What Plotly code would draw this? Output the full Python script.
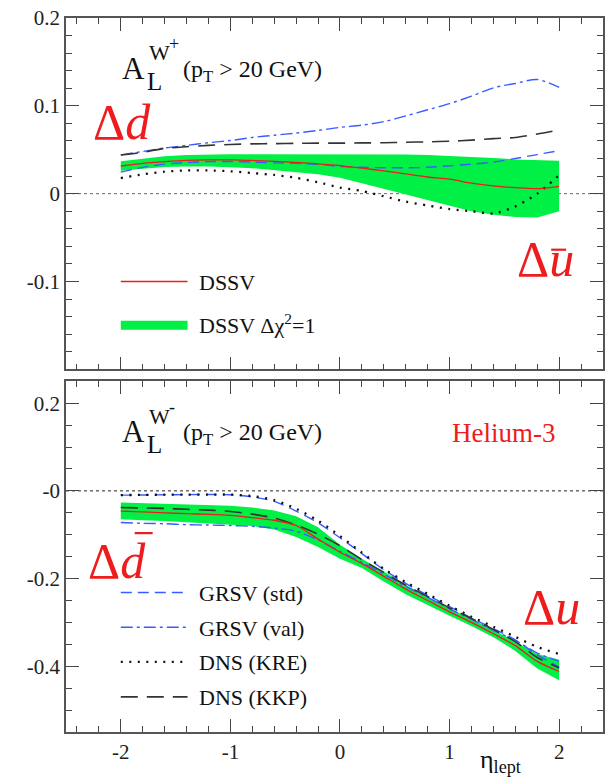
import plotly.graph_objects as go

# Lepton pseudorapidity grid
eta = [-2.0, -1.8, -1.6, -1.4, -1.2, -1.0, -0.8, -0.6, -0.4, -0.2, 0.0,
       0.2, 0.4, 0.6, 0.8, 1.0, 1.2, 1.4, 1.6, 1.8, 2.0]

# ---- A_L^{W+} (upper panel) ----
wp_dssv = [0.0315, 0.0345, 0.0365, 0.038, 0.0385, 0.0385, 0.0378, 0.0367, 0.0355, 0.034, 0.032,
           0.029, 0.026, 0.0225, 0.019, 0.0165, 0.012, 0.0088, 0.0068, 0.0057, 0.0084]
wp_band_hi = [0.037, 0.040, 0.0425, 0.044, 0.0448, 0.045, 0.045, 0.045, 0.045, 0.045, 0.045,
              0.045, 0.045, 0.0445, 0.044, 0.043, 0.042, 0.0405, 0.039, 0.038, 0.0374]
wp_band_lo = [0.026, 0.0285, 0.0305, 0.031, 0.031, 0.030, 0.029, 0.027, 0.0245, 0.022, 0.018,
              0.012, 0.0055, -0.001, -0.0075, -0.0135, -0.020, -0.024, -0.0265, -0.027, -0.020]
wp_grsv_std = [0.0246, 0.030, 0.0336, 0.0355, 0.0365, 0.0367, 0.036, 0.035, 0.0345, 0.0335, 0.031,
               0.030, 0.0295, 0.0295, 0.030, 0.0317, 0.0335, 0.036, 0.040, 0.0445, 0.049]
wp_grsv_val = [0.0442, 0.048, 0.052, 0.055, 0.058, 0.0605, 0.064, 0.0665, 0.069, 0.072, 0.0755,
               0.078, 0.082, 0.0885, 0.0955, 0.1025, 0.111, 0.1205, 0.1255, 0.130, 0.121]
wp_dns_kre = [0.0178, 0.022, 0.025, 0.0265, 0.0265, 0.0255, 0.0235, 0.0213, 0.018, 0.013, 0.007,
              0.003, -0.003, -0.009, -0.0135, -0.0175, -0.020, -0.0225, -0.0145, 0.0, 0.021]
wp_dns_kkp = [0.044, 0.047, 0.0515, 0.0535, 0.055, 0.056, 0.0567, 0.057, 0.0573, 0.0575, 0.0575,
              0.0578, 0.058, 0.0585, 0.059, 0.0597, 0.061, 0.0627, 0.064, 0.068, 0.0725]

# ---- A_L^{W-} (lower panel) ----
wm_dssv = [-0.046, -0.048, -0.050, -0.052, -0.0536, -0.056, -0.061, -0.067, -0.079, -0.110, -0.140,
           -0.166, -0.195, -0.224, -0.250, -0.276, -0.300, -0.326, -0.353, -0.389, -0.412]
wm_band_hi = [-0.0265, -0.028, -0.029, -0.030, -0.032, -0.034, -0.038, -0.045, -0.058, -0.083, -0.123,
              -0.155, -0.184, -0.215, -0.242, -0.268, -0.292, -0.317, -0.344, -0.372, -0.385]
wm_band_lo = [-0.065, -0.067, -0.069, -0.071, -0.074, -0.077, -0.080, -0.088, -0.105, -0.128, -0.155,
              -0.176, -0.207, -0.236, -0.260, -0.285, -0.308, -0.334, -0.365, -0.405, -0.432]
wm_grsv_std = [-0.0098, -0.0095, -0.009, -0.0085, -0.0083, -0.009, -0.014, -0.024, -0.046, -0.073, -0.107,
               -0.143, -0.180, -0.211, -0.238, -0.264, -0.290, -0.314, -0.340, -0.374, -0.402]
wm_grsv_val = [-0.072, -0.074, -0.075, -0.077, -0.078, -0.079, -0.081, -0.085, -0.092, -0.112, -0.138,
               -0.163, -0.190, -0.218, -0.243, -0.269, -0.293, -0.318, -0.341, -0.370, -0.389]
wm_dns_kre = [-0.0098, -0.009, -0.0088, -0.0086, -0.0085, -0.0085, -0.012, -0.021, -0.041, -0.068, -0.103,
              -0.141, -0.178, -0.208, -0.235, -0.262, -0.287, -0.310, -0.333, -0.356, -0.372]
wm_dns_kkp = [-0.038, -0.039, -0.040, -0.042, -0.044, -0.047, -0.053, -0.062, -0.078, -0.099, -0.125,
              -0.157, -0.186, -0.215, -0.241, -0.267, -0.291, -0.316, -0.344, -0.380, -0.404]

x_ticks = [-2, -1, 0, 1, 2]
x_ticktext = ["-2", "-1", "0", "1", "2"]
top_yticks = [-0.1, 0.0, 0.1, 0.2]
top_yticktext = ["-0.1", "0", "0.1", "0.2"]
bot_yticks = [-0.4, -0.2, 0.0, 0.2]
bot_yticktext = ["-0.4", "-0.2", "-0", "0.2"]

legend_top = ["DSSV", "DSSV Δχ<sup>2</sup>=1"]
legend_bot = ["GRSV (std)", "GRSV (val)", "DNS (KRE)", "DNS (KKP)"]

SERIF = "Liberation Serif"
RED = "#ee1c1c"
GREEN = "#00f046"
BLUE = "#3a5cff"
DARK = "#333333"

styles = {
    "dssv": dict(color=RED, width=1.3, dash="solid"),
    "grsv_std": dict(color=BLUE, width=1.4, dash="11px,6px"),
    "grsv_val": dict(color=BLUE, width=1.4, dash="12px,4px,3px,4px"),
    "dns_kre": dict(color="#111111", width=2.3, dash="2px,6.5px"),
    "dns_kkp": dict(color=DARK, width=1.6, dash="17px,9px"),
}

fig = go.Figure()


def add_panel(xa, ya, hi, lo, dssv, std, val, kre, kkp):
    fig.add_trace(go.Scatter(x=eta + eta[::-1], y=hi + lo[::-1], fill="toself",
                             fillcolor=GREEN, line=dict(width=0, color=GREEN),
                             mode="lines", xaxis=xa, yaxis=ya, hoverinfo="skip"))
    for key, vals in [("grsv_std", std), ("grsv_val", val), ("dns_kre", kre),
                      ("dns_kkp", kkp), ("dssv", dssv)]:
        fig.add_trace(go.Scatter(x=eta, y=vals, mode="lines",
                                 line=dict(shape="spline", smoothing=0.8, **styles[key]),
                                 xaxis=xa, yaxis=ya))


add_panel("x", "y", wp_band_hi, wp_band_lo, wp_dssv, wp_grsv_std, wp_grsv_val, wp_dns_kre, wp_dns_kkp)
add_panel("x2", "y2", wm_band_hi, wm_band_lo, wm_dssv, wm_grsv_std, wm_grsv_val, wm_dns_kre, wm_dns_kkp)

# plot-area geometry in pixels (used to place labels)
L, R, T, B = 66, 6, 14, 48
W, H = 611, 780
PW, PH = W - L - R, H - T - B


def px(xp, yp):
    return (xp - L) / PW, (H - B - yp) / PH


axis_common = dict(showline=True, linecolor="#555555", linewidth=1.6, mirror="allticks",
                   ticks="inside", ticklen=13, tickwidth=1.4, tickcolor="#444444",
                   showgrid=False, zeroline=False,
                   tickfont=dict(family=SERIF, size=21, color="#222222"))

top_dom = [(H - B - 367.3) / PH, 1.0]
bot_dom = [0.0, (H - B - 379.3) / PH]

fig.update_layout(
    width=W, height=H, margin=dict(l=L, r=R, t=T, b=B),
    paper_bgcolor="white", plot_bgcolor="white", showlegend=False,
    font=dict(family=SERIF),
    xaxis=dict(axis_common, range=[-2.5, 2.4], anchor="y", tickvals=x_ticks, showticklabels=False,
               minor=dict(ticks="inside", ticklen=6, dtick=0.2, tick0=0, tickcolor="#444444", tickwidth=1.2)),
    xaxis2=dict(axis_common, range=[-2.5, 2.4], anchor="y2", tickvals=x_ticks, ticktext=x_ticktext,
                minor=dict(ticks="inside", ticklen=6, dtick=0.2, tick0=0, tickcolor="#444444", tickwidth=1.2)),
    yaxis=dict(axis_common, range=[-0.2, 0.2], domain=top_dom, anchor="x",
               tickvals=top_yticks, ticktext=top_yticktext,
               minor=dict(ticks="inside", ticklen=6, dtick=0.02, tick0=0, tickcolor="#444444", tickwidth=1.2)),
    yaxis2=dict(axis_common, range=[-0.55, 0.25], domain=bot_dom, anchor="x2",
                tickvals=bot_yticks, ticktext=bot_yticktext,
                minor=dict(ticks="inside", ticklen=6, dtick=0.05, tick0=0, tickcolor="#444444", tickwidth=1.2)),
)

shapes = []
# zero reference lines
for xr, yr, col in [("x domain", "y", "#666666"), ("x2 domain", "y2", "#222222")]:
    shapes.append(dict(type="line", xref=xr, yref=yr, x0=0, x1=1, y0=0, y1=0,
                       line=dict(color=col, width=1, dash="dot"), layer="below"))

annotations = []


def text(xp, yp, s, size, color="#111111", xanchor="left", yanchor="middle"):
    ax, ay = px(xp, yp)
    annotations.append(dict(xref="paper", yref="paper", x=ax, y=ay, text=s, showarrow=False,
                            xanchor=xanchor, yanchor=yanchor,
                            font=dict(family=SERIF, size=size, color=color)))


def legend_line(yp, style):
    x0, y0 = px(121, yp)
    x1, _ = px(188, yp)
    shapes.append(dict(type="line", xref="paper", yref="paper", x0=x0, x1=x1, y0=y0, y1=y0,
                       line=dict(color=style["color"], width=style["width"], dash=style["dash"])))


# upper panel legend
legend_line(279, styles["dssv"])
text(197, 280, legend_top[0], 22)
bx0, by0 = px(121, 318.5)
bx1, by1 = px(188, 327.5)
shapes.append(dict(type="rect", xref="paper", yref="paper", x0=bx0, x1=bx1, y0=by1, y1=by0,
                   fillcolor=GREEN, line=dict(width=0)))
text(197, 322, legend_top[1], 22)

# lower panel legend
for yp, key, label in zip([591.7, 626.7, 661.5, 696.7],
                          ["grsv_std", "grsv_val", "dns_kre", "dns_kkp"], legend_bot):
    legend_line(yp, styles[key])
    text(197, yp + 1, label, 22)

# panel titles
for dy, sign in [(0, "+"), (365.3, "-")]:
    text(120, 65 + dy, "A", 31)
    text(145, 78 + dy, "L", 25)
    text(147, 49 + dy, "W", 22)
    text(167, 40 + dy, sign, 18)
    text(181, 67 + dy, "(p<sub>T</sub> > 20 GeV)", 24)

text(505, 431, "Helium-3", 27, color=RED, xanchor="center")

# quark flavour labels
text(122, 119, "Δ<i>d</i>", 50, color=RED, xanchor="center")
text(547, 256, "Δ<i>u</i>", 50, color=RED, xanchor="center")
text(117, 560, "Δ<i>d</i>", 50, color=RED, xanchor="center")
text(553, 606, "Δ<i>u</i>", 50, color=RED, xanchor="center")
for (xa_, xb_, yb_) in [(553, 568, 247), (135, 153, 532)]:
    a0, b0 = px(xa_, yb_)
    a1, _ = px(xb_, yb_)
    shapes.append(dict(type="line", xref="paper", yref="paper", x0=a0, x1=a1, y0=b0, y1=b0,
                       line=dict(color=RED, width=2.2)))

# x-axis title
text(502, 761, "η<sub>lept</sub>", 26, xanchor="center")

fig.update_layout(shapes=shapes, annotations=annotations)
fig.write_html("out.html")
